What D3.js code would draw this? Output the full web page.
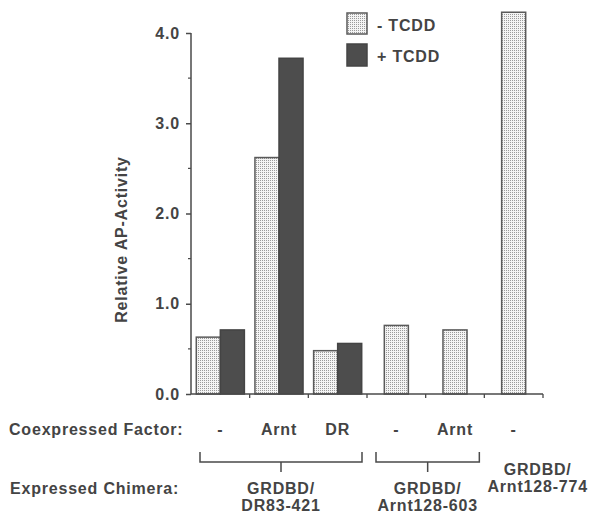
<!DOCTYPE html>
<html>
<head>
<meta charset="utf-8">
<script src="https://cdn.jsdelivr.net/npm/d3@7.9.0/dist/d3.min.js"></script>
<style>
  body { margin: 0; background: #fff; }
  svg text { font-family: "Liberation Sans", Arial, Helvetica, sans-serif; font-weight: bold; fill: #444; letter-spacing: 0.8px; }
</style>
</head>
<body>
<svg id="chart" width="589" height="513"></svg>
<script>
// values
const factors = ['-', 'Arnt', 'DR', '-', 'Arnt', '-'];
const minusTCDD = [0.63, 2.62, 0.48, 0.76, 0.71, 4.23];
const plusTCDD = [0.71, 3.72, 0.56, null, null, null];
const yTicks = [0, 1, 2, 3, 4];
const yMinorTicks = [0.5, 1.5, 2.5, 3.5];
const chimeraLabels = [['GRDBD/', 'DR83-421'], ['GRDBD/', 'Arnt128-603'], ['GRDBD/', 'Arnt128-774']];
const chimeraSpans = [[0, 2], [3, 4], [5, 5]];
const seriesNames = ['- TCDD', '+ TCDD'];

const ink = '#4a4a4a';
const fs = 16;
const svg = d3.select('#chart');

// stippled fill for the -TCDD bars
const defs = svg.append('defs');
const pat = defs.append('pattern')
  .attr('id', 'stipple')
  .attr('patternUnits', 'userSpaceOnUse')
  .attr('width', 2).attr('height', 2);
pat.append('rect').attr('width', 2).attr('height', 2).attr('fill', '#f4f4f4');
pat.append('rect').attr('width', 1).attr('height', 1).attr('fill', '#9a9a9a');

const x = d3.scaleBand().domain(d3.range(factors.length)).range([191, 543]).padding(0);
const sub = d3.scaleBand().domain([0, 1]).range([0, x.bandwidth()]).paddingInner(0).paddingOuter(0.22);
const y = d3.scaleLinear().domain([0, 4]).range([394, 33]);

// y axis
const yAxis = svg.append('g').attr('transform', 'translate(191,0)')
  .call(d3.axisLeft(y).tickValues(yTicks).tickFormat(d3.format('.1f')).tickSize(5).tickPadding(6));
yAxis.attr('font-family', null).attr('font-size', null);
yAxis.select('.domain').attr('d', `M0,${y(4)}V${y(0)}`);
yAxis.selectAll('line, .domain').attr('stroke', ink).attr('stroke-width', 1.5);
yAxis.selectAll('text').attr('font-size', fs).attr('fill', null);
svg.append('g').selectAll('line').data(yMinorTicks).join('line')
  .attr('x1', 188).attr('x2', 191)
  .attr('y1', d => y(d)).attr('y2', d => y(d))
  .attr('stroke', ink).attr('stroke-width', 1.2);

svg.append('text')
  .attr('transform', `translate(127,${(y(0) + y(4)) / 2 + 26}) rotate(-90)`)
  .attr('text-anchor', 'middle')
  .attr('font-size', fs)
  .text('Relative AP-Activity');

// bars
const bars = svg.append('g');
factors.forEach((f, i) => {
  const single = plusTCDD[i] == null;
  const bx0 = single ? x(i) + x.bandwidth() / 2 - sub.bandwidth() / 2 : x(i) + sub(0);
  bars.append('rect')
    .attr('x', bx0).attr('width', sub.bandwidth())
    .attr('y', y(minusTCDD[i])).attr('height', y(0) - y(minusTCDD[i]))
    .attr('fill', 'url(#stipple)').attr('stroke', '#5a5a5a').attr('stroke-width', 1.5);
  if (!single) {
    bars.append('rect')
      .attr('x', x(i) + sub(1)).attr('width', sub.bandwidth())
      .attr('y', y(plusTCDD[i])).attr('height', y(0) - y(plusTCDD[i]))
      .attr('fill', '#4d4d4d').attr('stroke', '#444').attr('stroke-width', 1.5);
  }
});

// x axis
svg.append('line').attr('x1', 191).attr('x2', 543).attr('y1', y(0)).attr('y2', y(0))
  .attr('stroke', ink).attr('stroke-width', 1.5);
svg.append('g').selectAll('line').data(d3.range(1, factors.length + 1)).join('line')
  .attr('x1', d => x(0) + d * x.bandwidth()).attr('x2', d => x(0) + d * x.bandwidth())
  .attr('y1', y(0)).attr('y2', y(0) + 4)
  .attr('stroke', ink).attr('stroke-width', 1.3);

// legend
const legend = svg.append('g');
seriesNames.forEach((s, i) => {
  legend.append('rect')
    .attr('x', 347).attr('y', 13 + i * 31).attr('width', 20).attr('height', i ? 22 : 21)
    .attr('fill', i ? '#4d4d4d' : 'url(#stipple)')
    .attr('stroke', i ? '#444' : '#5a5a5a').attr('stroke-width', 1.5);
  legend.append('text').attr('x', 377).attr('y', 31 + i * 31).attr('font-size', fs).text(s);
});

// coexpressed factor row
svg.append('text').attr('x', 9).attr('y', 435).attr('font-size', fs).text('Coexpressed Factor:');
svg.append('g').selectAll('text').data(factors).join('text')
  .attr('x', (d, i) => x(i) + x.bandwidth() / 2)
  .attr('y', 435)
  .attr('text-anchor', 'middle')
  .attr('font-size', fs)
  .text(d => d);

// expressed chimera row
svg.append('text').attr('x', 10).attr('y', 494).attr('font-size', fs).text('Expressed Chimera:');
chimeraSpans.forEach(([a, b], k) => {
  const left = x(a) + 9, right = x(b) + x.bandwidth() - 5;
  const mid = (left + right) / 2;
  const grouped = a !== b;
  if (grouped) {
    svg.append('path')
      .attr('d', `M${left},452V462H${right}V452M${mid},462V472`)
      .attr('fill', 'none').attr('stroke', ink).attr('stroke-width', 1.5);
  }
  const cx = grouped ? mid : x(a) + x.bandwidth() / 2 + 24;
  svg.append('text')
    .attr('x', cx).attr('y', grouped ? 494 : 475)
    .attr('text-anchor', 'middle')
    .attr('font-size', fs)
    .selectAll('tspan').data(chimeraLabels[k]).join('tspan')
    .attr('x', cx).attr('dy', (d, j) => j ? 16.5 : 0)
    .text(d => d);
});
</script>
</body>
</html>
